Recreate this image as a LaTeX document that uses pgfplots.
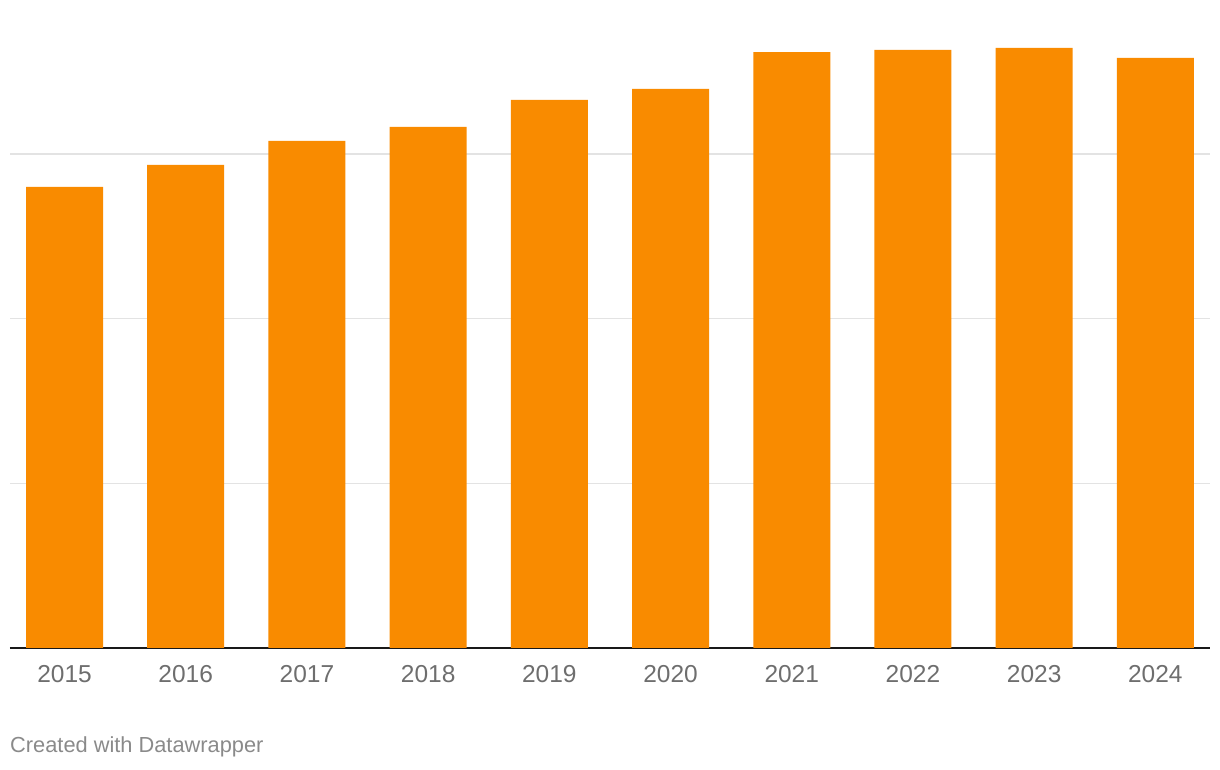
\documentclass[border=0pt]{standalone}
\usepackage{pgfplots}
\pgfplotsset{compat=1.18}
\usepackage{fontspec}
\setmainfont{Liberation Sans}
\definecolor{dwor}{HTML}{F98B00}
\definecolor{tickgray}{HTML}{6E6E6E}
\definecolor{notegray}{HTML}{8A8A8A}
\definecolor{gridgray}{HTML}{E3E3E3}
\begin{document}
\begin{tikzpicture}[x=1pt,y=1pt]
\path[use as bounding box] (0,0) rectangle (1220,770);
\begin{axis}[
  at={(10pt,122pt)}, anchor=south west,
  scale only axis, width=1200pt, height=648pt,
  xmin=-0.45, xmax=9.45, ymin=0, ymax=3.935,
  axis x line=bottom, axis y line=left,
  x axis line style={-, draw=black!90, line width=1.6pt},
  y axis line style={draw=none},
  xtick=data,
  xticklabels={2015,2016,2017,2018,2019,2020,2021,2022,2023,2024},
  xticklabel style={font=\fontsize{24.5}{24.5}\selectfont, text=tickgray, anchor=base, yshift=-35pt},
  major tick length=0pt,
  ytick={1,2,3}, yticklabels={},
  ymajorgrids, grid style={gridgray, line width=1.5pt},
  clip=false,
]
\addplot[ybar, bar width=77pt, bar shift=0pt, fill=dwor, draw=none] coordinates {
(0,2.800) (1,2.933) (2,3.079) (3,3.164) (4,3.328) (5,3.395) (6,3.619) (7,3.632) (8,3.644) (9,3.583)
};
\end{axis}
\node[anchor=base west, inner sep=0pt, text=notegray, font=\fontsize{21.8}{21.8}\selectfont] at (10,17) {Created with Datawrapper};
\end{tikzpicture}
\end{document}
